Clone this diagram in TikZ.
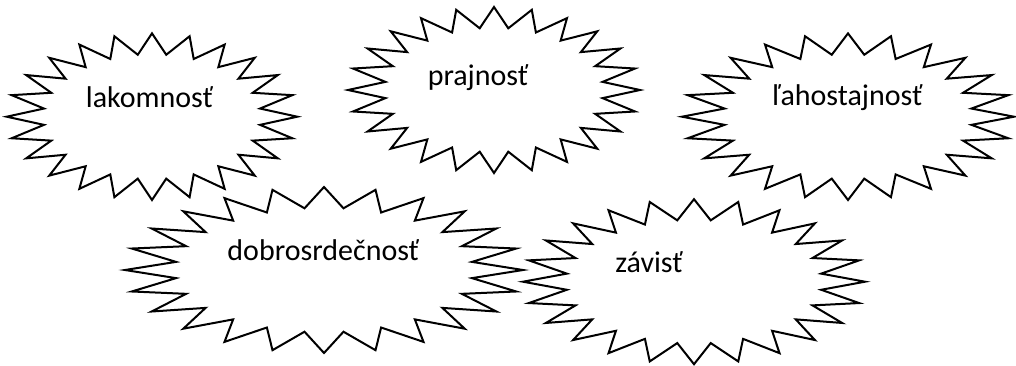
\documentclass[tikz,border=0pt]{standalone}
\usepackage{fontspec}
\setmainfont{Carlito}
\begin{document}
\begin{tikzpicture}[x=1pt,y=-1pt,
  starline/.style={draw=black,fill=white,line width=2pt,line join=miter},
  label/.style={anchor=base,inner sep=0pt,font=\fontsize{30}{36}\selectfont}]
\useasboundingbox (0,0) rectangle (1016,365);
% cx, cy, rx, ry
\newcommand\starburst[5]{%
  \draw[starline] plot[samples at={0,...,47},variable=\k]
    ({#2+(0.875+0.125*cos(180*\k))*#4*cos(90+7.5*\k)},
     {#3-(0.875+0.125*cos(180*\k))*#5*sin(90+7.5*\k)}) -- cycle;
  \coordinate (#1) at (#2,#3);}
\starburst{s1}{152}{116.7}{145.3}{83.3}
\starburst{s2}{494}{90}{146}{83}
\starburst{s3}{848}{116.7}{166}{83.3}
\starburst{s4}{324}{270}{199}{83}
\starburst{s5}{694}{281.7}{171}{82.5}
\node[label] (t1) at (149.5,107.3) {lakomnosť};
\node[label] (t2) at (478,85.7) {prajnosť};
\node[label] (t3) at (847.5,105.7) {ľahostajnosť};
\node[label] (t4) at (323.3,260.7) {dobrosrdečnosť};
\node[label] (t5) at (649,272.3) {závisť};
\end{tikzpicture}
\end{document}
